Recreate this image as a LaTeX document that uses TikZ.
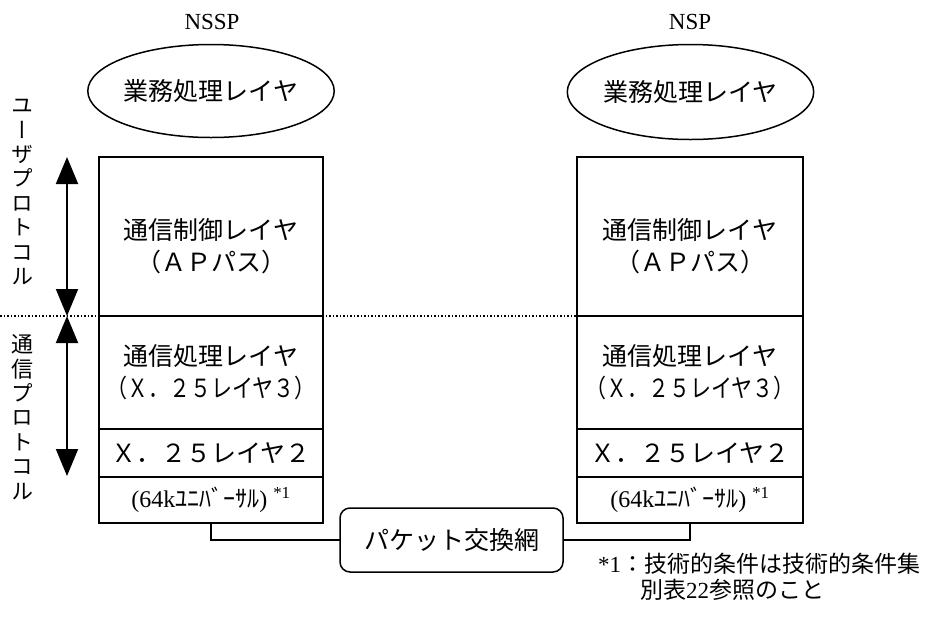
\documentclass[tikz,border=0pt]{standalone}
\usepackage{fontspec}
\setmainfont{Liberation Serif}
\newfontfamily\cjk{Noto Sans CJK JP}
\newfontfamily\cjkv[RawFeature=+vert]{Noto Sans CJK JP}
\usetikzlibrary{shapes.geometric,arrows.meta,positioning}
\tikzstyle{every node}+=[inner sep=0pt,outer sep=0pt]
\tikzstyle{every path}+=[line width=1.5pt]
\tikzstyle{layer}=[draw,rectangle,align=center,font=\cjk\fontsize{25}{32}\selectfont]
\tikzstyle{app}=[draw,ellipse,font=\cjk\fontsize{25}{32}\selectfont]
\tikzstyle{vtext}=[align=center,font=\cjkv\fontsize{22}{24.4}\selectfont]
\tikzstyle{span}=[{Triangle[length=27pt,width=22pt]}-{Triangle[length=27pt,width=22pt]},line width=2pt]
\newcommand{\drawlinks}[2][\empty]{
	\foreach \a/\b in {#2}{
		\draw[#1] (\a) |- (\b);
	}
}
\newcommand{\narrow}[1]{\scalebox{0.84}[1]{#1}}

\begin{document}
\begin{tikzpicture}[x=1pt,y=-1pt]
\useasboundingbox (0,0) rectangle (935,619);

\node[font=\fontsize{23}{26}\selectfont] (nssp) at (212,22) {NSSP};
\node[font=\fontsize{23}{26}\selectfont] (nsp) at (690,22) {NSP};

\node[app,minimum width=225pt,minimum height=93pt] (app1) at (211,91) {業務処理レイヤ};
\node[app,minimum width=228pt,minimum height=95pt] (app2) at (690.5,92) {業務処理レイヤ};

% left stack
\node[layer,minimum width=224pt,minimum height=159pt] (ctl1) at (211,236.5) {\mbox{}\\[8pt]通信制御レイヤ\\（ＡＰパス）};
\node[layer,minimum width=224pt,minimum height=113pt,below=0pt of ctl1] (net1) {通信処理レイヤ\\\narrow{（Ｘ．２５レイヤ３）}};
\node[layer,minimum width=224pt,minimum height=48pt,below=0pt of net1] (lnk1) {Ｘ．２５レイヤ２};
\node[layer,minimum width=224pt,minimum height=46pt,below=0pt of lnk1,font=\fontsize{24}{28}\selectfont] (phy1) {(64k{\cjk ﾕﾆﾊﾞｰｻﾙ}) \textsuperscript{*1}};

% right stack
\node[layer,minimum width=226pt,minimum height=159pt] (ctl2) at (690,236.5) {\mbox{}\\[8pt]通信制御レイヤ\\（ＡＰパス）};
\node[layer,minimum width=226pt,minimum height=113pt,below=0pt of ctl2] (net2) {通信処理レイヤ\\\narrow{（Ｘ．２５レイヤ３）}};
\node[layer,minimum width=226pt,minimum height=48pt,below=0pt of net2] (lnk2) {Ｘ．２５レイヤ２};
\node[layer,minimum width=226pt,minimum height=46pt,below=0pt of lnk2,font=\fontsize{24}{28}\selectfont] (phy2) {(64k{\cjk ﾕﾆﾊﾞｰｻﾙ}) \textsuperscript{*1}};

\node[layer,rounded corners=10pt,minimum width=223pt,minimum height=64pt] (pkt) at (451.5,540) {パケット交換網};
\drawlinks{phy1.south/pkt.west,phy2.south/pkt.east}

% protocol ranges
\coordinate (dl) at (0,316);
\draw[dotted,line width=1.5pt] (dl) -- (ctl2.south west);
\coordinate (ua) at (67,157);
\coordinate (ub) at (67,316);
\coordinate (lb) at (67,476);
\draw[span] (ua) -- (ub);
\draw[span] (ub) -- (lb);
\node[vtext] (usr) at (22,192) {ユ\\ー\\ザ\\プ\\ロ\\ト\\コ\\ル};
\node[vtext] (com) at (22,417) {通\\信\\プ\\ロ\\ト\\コ\\ル};

\node[align=left,anchor=north west,font=\fontsize{23}{26}\selectfont] (fn) at (598,553) {*1{\cjk ：技術的条件は技術的条件集}\\\hspace{42pt}{\cjk 別表}22{\cjk 参照のこと}};

\end{tikzpicture}
\end{document}
